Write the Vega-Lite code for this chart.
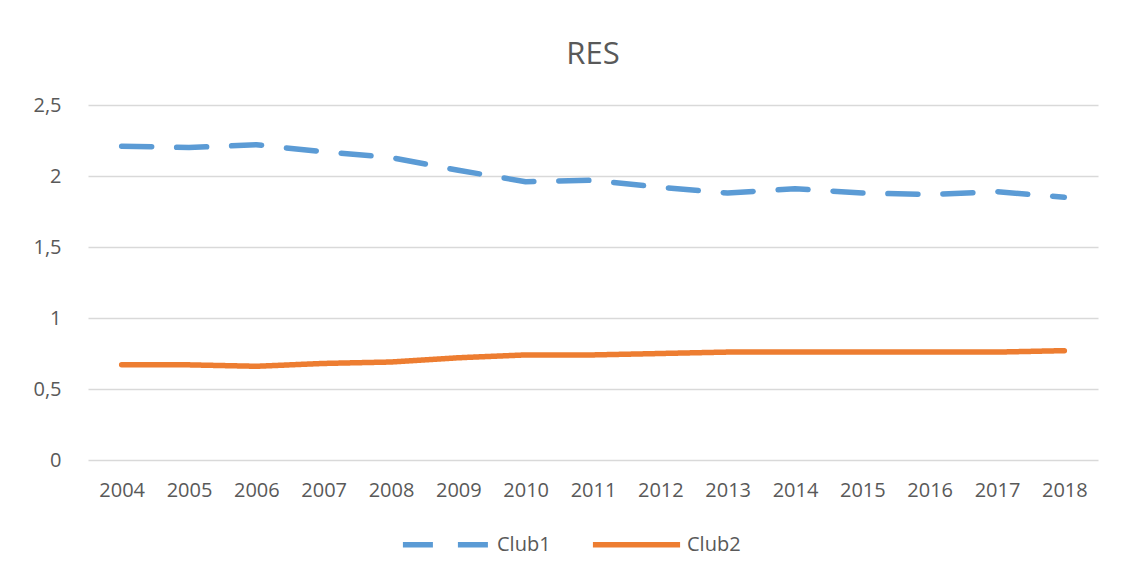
{
  "$schema": "https://vega.github.io/schema/vega-lite/v6.json",
  "autosize": "none",
  "width": 1010,
  "height": 355,
  "padding": {"left": 88, "top": 105, "right": 29, "bottom": 119},
  "background": "white",
  "config": {
    "locale": {"number": {"decimal": ",", "thousands": ".", "grouping": [3], "currency": ["", " €"]}},
    "view": {"stroke": null},
    "font": "Open Sans"
  },
  "title": {"text": "RES", "fontSize": 31, "font": "Open Sans", "fontWeight": "normal", "color": "#595959", "offset": 24, "anchor": "middle"},
  "data": {"values": [
    {"year": "2004", "club": "Club1", "value": 2.21},
    {"year": "2005", "club": "Club1", "value": 2.20},
    {"year": "2006", "club": "Club1", "value": 2.22},
    {"year": "2007", "club": "Club1", "value": 2.17},
    {"year": "2008", "club": "Club1", "value": 2.13},
    {"year": "2009", "club": "Club1", "value": 2.04},
    {"year": "2010", "club": "Club1", "value": 1.96},
    {"year": "2011", "club": "Club1", "value": 1.97},
    {"year": "2012", "club": "Club1", "value": 1.92},
    {"year": "2013", "club": "Club1", "value": 1.88},
    {"year": "2014", "club": "Club1", "value": 1.91},
    {"year": "2015", "club": "Club1", "value": 1.88},
    {"year": "2016", "club": "Club1", "value": 1.87},
    {"year": "2017", "club": "Club1", "value": 1.89},
    {"year": "2018", "club": "Club1", "value": 1.85},
    {"year": "2004", "club": "Club2", "value": 0.67},
    {"year": "2005", "club": "Club2", "value": 0.67},
    {"year": "2006", "club": "Club2", "value": 0.66},
    {"year": "2007", "club": "Club2", "value": 0.68},
    {"year": "2008", "club": "Club2", "value": 0.69},
    {"year": "2009", "club": "Club2", "value": 0.72},
    {"year": "2010", "club": "Club2", "value": 0.74},
    {"year": "2011", "club": "Club2", "value": 0.74},
    {"year": "2012", "club": "Club2", "value": 0.75},
    {"year": "2013", "club": "Club2", "value": 0.76},
    {"year": "2014", "club": "Club2", "value": 0.76},
    {"year": "2015", "club": "Club2", "value": 0.76},
    {"year": "2016", "club": "Club2", "value": 0.76},
    {"year": "2017", "club": "Club2", "value": 0.76},
    {"year": "2018", "club": "Club2", "value": 0.77}
  ]},
  "mark": {"type": "line", "strokeWidth": 5.5, "strokeCap": "round", "strokeJoin": "round"},
  "encoding": {
    "x": {"field": "year", "type": "ordinal", "scale": {"type": "point", "padding": 0.5},
      "axis": {"title": null, "labelAngle": 0, "domain": false, "ticks": false, "grid": false, "labelFontSize": 20, "labelColor": "#595959", "labelPadding": 20, "labelFont": "Open Sans"}},
    "y": {"field": "value", "type": "quantitative", "scale": {"domain": [0, 2.5], "nice": false},
      "axis": {"title": null, "values": [0, 0.5, 1, 1.5, 2, 2.5], "format": "~g", "domain": false, "ticks": false, "grid": true, "gridColor": "#D9D9D9", "gridWidth": 1.5, "labelFontSize": 20, "labelColor": "#595959", "labelPadding": 27, "labelFont": "Open Sans"}},
    "color": {"field": "club", "type": "nominal", "scale": {"domain": ["Club1", "Club2"], "range": ["#5B9BD5", "#ED7D31"]},
      "legend": {"title": null, "orient": "none", "legendX": 312, "legendY": 393, "direction": "horizontal", "symbolType": "stroke", "symbolSize": 7600, "symbolStrokeWidth": 5.5, "labelFontSize": 20, "labelColor": "#595959", "labelFont": "Open Sans", "columnPadding": 30, "labelOffset": 4}},
    "strokeDash": {"field": "club", "type": "nominal", "scale": {"domain": ["Club1", "Club2"], "range": [[30, 25], [1, 0]]},
      "legend": {"title": null, "orient": "none", "legendX": 312, "legendY": 393, "direction": "horizontal", "symbolType": "stroke", "symbolSize": 7600, "symbolStrokeWidth": 5.5, "labelFontSize": 20, "labelColor": "#595959", "labelFont": "Open Sans", "columnPadding": 30, "labelOffset": 4}}
  }
}
